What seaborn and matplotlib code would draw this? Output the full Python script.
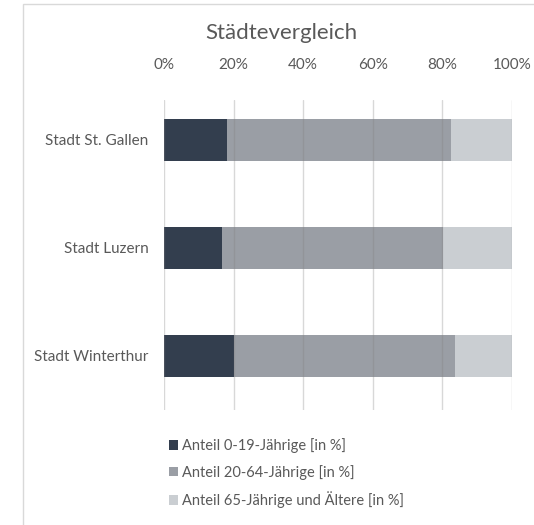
import matplotlib
matplotlib.use("Agg")
import matplotlib.pyplot as plt
from matplotlib.patches import Patch, Rectangle
import seaborn as sns
import pandas as pd
import numpy as np

# Population shares per city (percent)
cities = ["Stadt St. Gallen", "Stadt Luzern", "Stadt Winterthur"]
share_0_19 = [18.0, 16.6, 20.1]
share_20_64 = [64.5, 63.7, 63.5]
share_65_plus = [17.5, 19.7, 16.4]
series_labels = ["Anteil 0-19-Jährige [in %]",
                 "Anteil 20-64-Jährige [in %]",
                 "Anteil 65-Jährige und Ältere [in %]"]
tick_labels = ["0%", "20%", "40%", "60%", "80%", "100%"]

colors = ["#333e4e", "#9a9ea5", "#caced2"]
text_color = "#595959"

sns.set_theme(style="white")
plt.rcParams["font.family"] = ["Lato", "DejaVu Sans"]

df = pd.DataFrame({"city": cities, "a": share_0_19, "b": share_20_64, "c": share_65_plus})
df["cum_a"] = df["a"]
df["cum_b"] = df["a"] + df["b"]
df["cum_c"] = df["a"] + df["b"] + df["c"]

fig = plt.figure(figsize=(5.34, 5.25), dpi=100)
W, H = 534, 525
ax = fig.add_axes([164 / W, 1 - 410 / H, (512 - 164) / W, (410 - 100) / H])

# stacked horizontal bars: draw cumulative totals back to front
for col, color in zip(["cum_c", "cum_b", "cum_a"], colors[::-1]):
    sns.barplot(data=df, x=col, y="city", orient="h", color=color,
                width=0.39, saturation=1, ax=ax, zorder=2, linewidth=0)

ax.set_xlim(0, 100)
ax.set_ylim(2.5, -0.37)
for x in np.arange(0, 101, 20):
    ax.axvline(x, color=(0.5, 0.5, 0.5, 0.3), linewidth=1, zorder=3)

ax.xaxis.tick_top()
ax.set_xticks(np.arange(0, 101, 20))
ax.set_xticklabels(tick_labels)
ax.tick_params(axis="x", length=0, pad=20, labelsize=11, labelcolor=text_color)
ax.tick_params(axis="y", length=0, pad=11, labelsize=11, labelcolor=text_color)
ax.set_xlabel("")
ax.set_ylabel("")
for s in ax.spines.values():
    s.set_visible(False)

fig.text(281 / W, 1 - 33 / H, "Städtevergleich", ha="center", va="center",
         fontsize=16, color=text_color)

# chart frame
fig.patches.append(Rectangle((23 / W, -0.1), 1.2, 1 - 4 / H + 0.1,
                             transform=fig.transFigure, fill=False,
                             edgecolor="#d9d9d9", linewidth=1))

handles = [Patch(facecolor=c, edgecolor="none") for c in colors]
leg = fig.legend(handles, series_labels, loc="upper left",
                 bbox_to_anchor=(163 / W, 1 - 432 / H), frameon=False,
                 handlelength=0.65, handleheight=0.65, handletextpad=0.25,
                 labelspacing=0.82, fontsize=10.5, borderaxespad=0)
for t in leg.get_texts():
    t.set_color(text_color)

fig.savefig("out.png", dpi=100)
